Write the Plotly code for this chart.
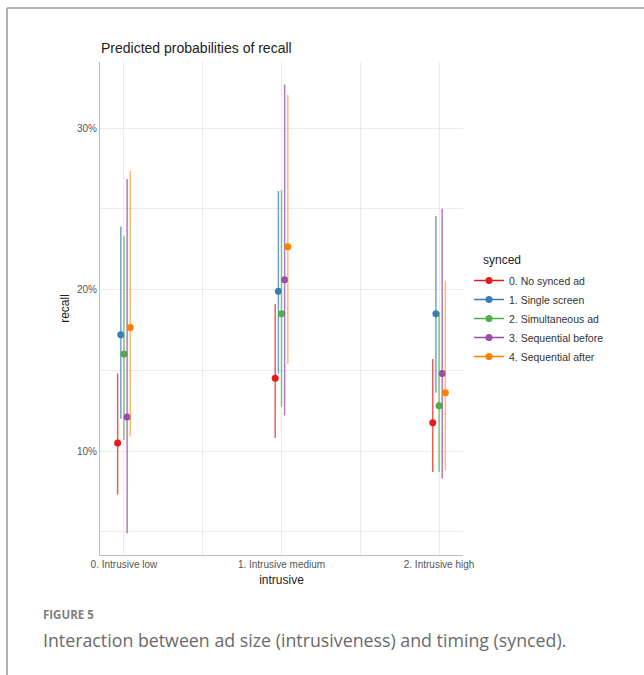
import plotly.graph_objects as go

categories = ["0. Intrusive low", "1. Intrusive medium", "2. Intrusive high"]
series_names = ["0. No synced ad", "1. Single screen", "2. Simultaneous ad",
                "3. Sequential before", "4. Sequential after"]
colors = ["#E41A1C", "#377EB8", "#4DAF4A", "#984EA3", "#FF7F00"]
bar_colors = ["rgba(228,26,28,0.7)", "rgba(55,126,184,0.7)", "rgba(77,175,74,0.7)",
              "rgba(152,78,163,0.75)", "rgba(255,127,0,0.55)"]

# predicted recall (%) per series, per intrusive level
estimate = [
    [10.5, 14.5, 11.75],
    [17.2, 19.9, 18.5],
    [16.0, 18.5, 12.8],
    [12.1, 20.6, 14.8],
    [17.65, 22.65, 13.6],
]
ci_low = [
    [7.3, 10.8, 8.7],
    [12.0, 14.8, 13.6],
    [10.7, 12.75, 8.7],
    [4.9, 12.2, 8.3],
    [10.9, 15.4, 8.8],
]
ci_high = [
    [14.8, 19.1, 15.7],
    [23.9, 26.1, 24.55],
    [23.3, 26.15, 18.6],
    [26.85, 32.7, 25.0],
    [27.35, 32.05, 20.55],
]
y_ticks = [10, 20, 30]
y_minor = [5, 15, 25]

dodge = [-0.04, -0.02, 0.0, 0.02, 0.04]

fig = go.Figure()
for s, name in enumerate(series_names):
    xs = [i + dodge[s] for i in range(len(categories))]
    fig.add_trace(go.Scatter(
        x=xs, y=estimate[s], mode="markers", name=name, showlegend=False,
        marker=dict(color=colors[s], size=7),
        error_y=dict(type="data", symmetric=False,
                     array=[h - e for h, e in zip(ci_high[s], estimate[s])],
                     arrayminus=[e - l for e, l in zip(estimate[s], ci_low[s])],
                     color=bar_colors[s], thickness=1.5, width=0),
    ))
for s, name in enumerate(series_names):
    fig.add_trace(go.Scatter(
        x=[None], y=[None], mode="lines+markers", name=name,
        marker=dict(color=colors[s], size=7),
        line=dict(color=colors[s], width=1.5),
    ))

# plot area in pixels: x 100..463, y 62..555
W, H = 644, 675
L, R, T, B = 100, 463, 62, 555
pw, ph = R - L, B - T

def px_x(px):
    return (px - L) / pw

def px_y(py):
    return (B - py) / ph

frame_color = "#9a9a9a"
fig.add_shape(type="line", xref="paper", yref="paper",
              x0=px_x(7), x1=px_x(644), y0=px_y(8), y1=px_y(8),
              line=dict(color=frame_color, width=1.5))
fig.add_shape(type="line", xref="paper", yref="paper",
              x0=px_x(7), x1=px_x(7), y0=px_y(8), y1=px_y(675),
              line=dict(color=frame_color, width=1.5))

fig.add_annotation(text="Predicted probabilities of recall", xref="paper", yref="paper",
                   x=px_x(99), y=px_y(48), xanchor="left", yanchor="middle",
                   showarrow=False, font=dict(size=14, color="#222222"))
fig.add_annotation(text="synced", xref="paper", yref="paper",
                   x=px_x(481), y=px_y(260), xanchor="left", yanchor="middle",
                   showarrow=False, font=dict(size=12, color="#222222"))
fig.add_annotation(text="<b>FIGURE 5</b>", xref="paper", yref="paper",
                   x=px_x(41), y=px_y(614), xanchor="left", yanchor="middle",
                   showarrow=False,
                   font=dict(family="Open Sans", size=11.5, color="#808080"))
fig.add_annotation(text="Interaction between ad size (intrusiveness) and timing (synced).",
                   xref="paper", yref="paper",
                   x=px_x(41), y=px_y(640), xanchor="left", yanchor="middle",
                   showarrow=False, font=dict(family="Open Sans", size=17.8, color="#6a6a6a"))

fig.update_layout(
    width=W, height=H,
    margin=dict(l=L, r=W - R, t=T, b=H - B, pad=0),
    plot_bgcolor="white", paper_bgcolor="white",
    font=dict(family="Liberation Sans, Arial, sans-serif", color="#333333"),
    showlegend=True,
    legend=dict(x=px_x(469), y=px_y(266), xanchor="left", yanchor="top",
                font=dict(size=10.5, color="#333333"), tracegroupgap=0,
                itemwidth=30),
    xaxis=dict(range=[-0.152, 2.152], tickvals=[0, 1, 2], ticktext=categories,
               showgrid=True, gridcolor="#EBEBEB", gridwidth=1,
               minor=dict(tickvals=[0.5, 1.5], showgrid=True, gridcolor="#EBEBEB", gridwidth=1),
               showline=True, linecolor="#BDBDBD", linewidth=1,
               zeroline=False, ticks="", tickfont=dict(size=10, color="#555555"),
               title=dict(text="intrusive", font=dict(size=12, color="#222222"), standoff=6)),
    yaxis=dict(range=[3.56, 34.09], tickvals=y_ticks, ticktext=[f"{v}%" for v in y_ticks],
               showgrid=True, gridcolor="#EBEBEB", gridwidth=1,
               minor=dict(tickvals=y_minor, showgrid=True, gridcolor="#EBEBEB", gridwidth=1),
               showline=True, linecolor="#BDBDBD", linewidth=1,
               zeroline=False, ticks="", tickfont=dict(size=10, color="#555555"),
               title=dict(text="recall", font=dict(size=12, color="#222222"), standoff=4)),
)

fig.write_html("out.html", config={"displayModeBar": False},
               post_script="document.body.style.margin='0';")
